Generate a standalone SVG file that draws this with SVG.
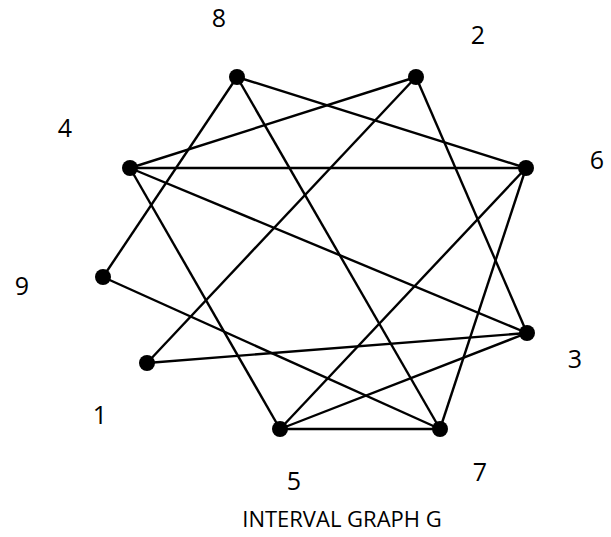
<svg xmlns="http://www.w3.org/2000/svg" width="611" height="537" viewBox="0 0 611 537">
<style>
.e{stroke:#000;stroke-width:2.4;fill:none}
.n{fill:#000}
.l{font-family:"Open Sans","Liberation Sans",sans-serif;font-size:25px;fill:#000;text-anchor:middle}
.t{font-family:"Open Sans","Liberation Sans",sans-serif;font-size:22px;fill:#000;text-anchor:middle}
</style>
<rect width="611" height="537" fill="#fff"/>
<g id="edges">
<line class="e" x1="237" y1="77" x2="103" y2="277"/>
<line class="e" x1="237" y1="77" x2="440" y2="429"/>
<line class="e" x1="237" y1="77" x2="526" y2="168"/>
<line class="e" x1="416" y1="77" x2="130" y2="168"/>
<line class="e" x1="416" y1="77" x2="147" y2="363"/>
<line class="e" x1="416" y1="77" x2="527" y2="333"/>
<line class="e" x1="130" y1="168" x2="526" y2="168"/>
<line class="e" x1="130" y1="168" x2="527" y2="333"/>
<line class="e" x1="130" y1="168" x2="280" y2="429"/>
<line class="e" x1="526" y1="168" x2="280" y2="429"/>
<line class="e" x1="526" y1="168" x2="440" y2="429"/>
<line class="e" x1="103" y1="277" x2="440" y2="429"/>
<line class="e" x1="527" y1="333" x2="147" y2="363"/>
<line class="e" x1="527" y1="333" x2="280" y2="429"/>
<line class="e" x1="280" y1="429" x2="440" y2="429"/>
</g>
<g id="node8"><circle class="n" cx="237" cy="77" r="8"/><text class="l" x="219" y="27">8</text></g>
<g id="node2"><circle class="n" cx="416" cy="77" r="8"/><text class="l" x="478" y="44">2</text></g>
<g id="node4"><circle class="n" cx="130" cy="168" r="8"/><text class="l" x="65" y="137">4</text></g>
<g id="node6"><circle class="n" cx="526" cy="168" r="8"/><text class="l" x="597" y="169">6</text></g>
<g id="node9"><circle class="n" cx="103" cy="277" r="8"/><text class="l" x="22" y="295">9</text></g>
<g id="node3"><circle class="n" cx="527" cy="333" r="8"/><text class="l" x="575" y="368">3</text></g>
<g id="node1"><circle class="n" cx="147" cy="363" r="8"/><text class="l" x="100" y="424">1</text></g>
<g id="node5"><circle class="n" cx="280" cy="429" r="8"/><text class="l" x="294" y="490">5</text></g>
<g id="node7"><circle class="n" cx="440" cy="429" r="8"/><text class="l" x="480" y="481">7</text></g>
<text class="t" x="342" y="527">INTERVAL GRAPH G</text>
</svg>
